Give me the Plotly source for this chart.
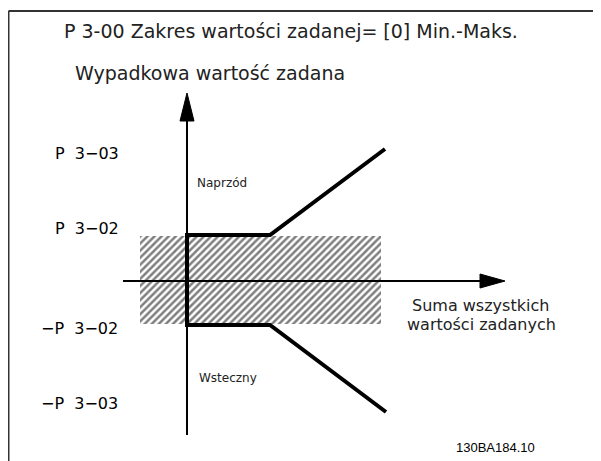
import plotly.graph_objects as go

# Coordinates: origin at axis crossing, x right, y up (units ~ px)
ref_x = [198, 83, 0, 0, 83, 199]
ref_y = [132, 46, 46, -44, -44, -131]

dead_x = [-47, 194, 194, -47, -47]
dead_y = [45, 45, -43, -43, 45]

yaxis_x = [0, 0]
yaxis_y = [-154, 162]
xaxis_x = [-64, 295]
xaxis_y = [0, 0]

level_labels = ["P  3−03", "P  3−02", "−P  3−02", "−P  3−03"]
level_y = [128, 53, -47, -122]
level_x = [-134, -134, -148, -148]

# page has an 8px body margin -> shift ranges so that axis origin sits at page (187, 281)
OFF = 8
fig = go.Figure()

fig.add_trace(go.Scatter(x=dead_x, y=dead_y, mode="lines", fill="toself",
                         line=dict(width=0), fillcolor="rgba(0,0,0,0)",
                         fillpattern=dict(shape="/", size=5, solidity=0.5,
                                          fgcolor="black", bgcolor="white"),
                         hoverinfo="skip"))
fig.add_trace(go.Scatter(x=xaxis_x, y=xaxis_y, mode="lines",
                         line=dict(color="black", width=2), hoverinfo="skip"))
fig.add_trace(go.Scatter(x=yaxis_x, y=yaxis_y, mode="lines",
                         line=dict(color="black", width=2), hoverinfo="skip"))
# arrow heads
fig.add_trace(go.Scatter(x=[-7, 7, 0, -7], y=[160, 160, 188, 160], mode="lines",
                         fill="toself", fillcolor="black", line=dict(color="black", width=1),
                         hoverinfo="skip"))
fig.add_trace(go.Scatter(x=[293, 293, 318, 293], y=[7, -7, 0, 7], mode="lines",
                         fill="toself", fillcolor="black", line=dict(color="black", width=1),
                         hoverinfo="skip"))
fig.add_trace(go.Scatter(x=ref_x, y=ref_y, mode="lines",
                         line=dict(color="black", width=4), hoverinfo="skip"))

tech_font = dict(family="DejaVu Sans", size=16, color="black")
for lab, lx, ly in zip(level_labels, level_x, level_y):
    fig.add_annotation(x=lx, y=ly, text=lab, showarrow=False, xanchor="left",
                       yanchor="middle", font=tech_font)

big_font = dict(family="DejaVu Sans", size=19, color="#222")
mid_font = dict(family="DejaVu Sans", size=16, color="#222")
fig.add_annotation(x=-125, y=250, text="P 3-00 Zakres wartości zadanej= [0] Min.-Maks.",
                   showarrow=False, xanchor="left", yanchor="middle", font=big_font)
fig.add_annotation(x=-114, y=208, text="Wypadkowa wartość zadana",
                   showarrow=False, xanchor="left", yanchor="middle", font=big_font)
fig.add_annotation(x=223, y=-24, text="Suma wszystkich",
                   showarrow=False, xanchor="left", yanchor="middle", font=mid_font)
fig.add_annotation(x=218, y=-43, text="wartości zadanych",
                   showarrow=False, xanchor="left", yanchor="middle", font=mid_font)
fig.add_annotation(x=8, y=98, text="Naprzód", showarrow=False, xanchor="left",
                   yanchor="middle", font=dict(family="DejaVu Sans", size=12, color="#222"))
fig.add_annotation(x=10, y=-97, text="Wsteczny", showarrow=False, xanchor="left",
                   yanchor="middle", font=dict(family="DejaVu Sans", size=12, color="#222"))
fig.add_annotation(x=267, y=-166, text="130BA184.10", showarrow=False, xanchor="left",
                   yanchor="middle", font=dict(family="Liberation Sans", size=13, color="black"))

# frame (page x=8, y=11)
fig.add_shape(type="line", xref="paper", yref="paper", x0=0.5/601, x1=1.02,
              y0=1-3/461, y1=1-3/461, line=dict(color="#333", width=2))
fig.add_shape(type="line", xref="paper", yref="paper", x0=0.5/601, x1=0.5/601,
              y0=1-3/461, y1=-0.02, line=dict(color="#333", width=2))

fig.update_layout(width=601, height=461, margin=dict(l=0, r=0, t=0, b=0),
                  paper_bgcolor="white", plot_bgcolor="white", showlegend=False,
                  xaxis=dict(range=[-187 + OFF, 414 + OFF], visible=False, fixedrange=True),
                  yaxis=dict(range=[-180 - OFF, 281 - OFF], visible=False, fixedrange=True))
fig.write_html("out.html")
